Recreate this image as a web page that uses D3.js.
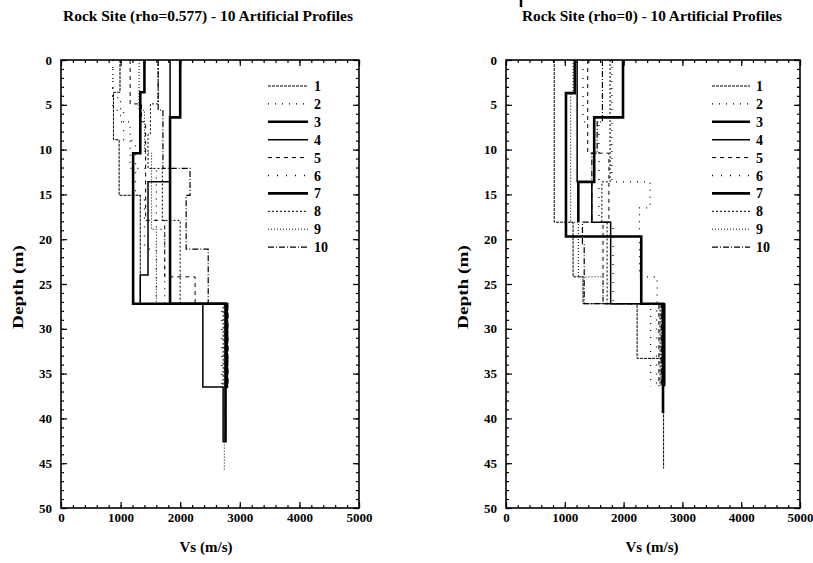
<!DOCTYPE html>
<html><head><meta charset="utf-8">
<script src="https://cdn.jsdelivr.net/npm/d3@7"></script>
<style>
body{margin:0;background:#fff}
svg text{font-family:"Liberation Serif","Times New Roman","DejaVu Serif",serif !important;fill:#000;font-weight:bold}
</style>
</head><body>
<svg id="c" width="813" height="563"></svg>
<script>
// ---------- data ----------
const seriesNames = ["1","2","3","4","5","6","7","8","9","10"];
const xTickValues = [0,1000,2000,3000,4000,5000];
const yTickValues = [0,5,10,15,20,25,30,35,40,45,50];
const titles = ["Rock Site (rho=0.577) - 10 Artificial Profiles","Rock Site (rho=0) - 10 Artificial Profiles"];
const xLabel = "Vs (m/s)";
const yLabel = "Depth (m)";

// Left panel (rho=0.577): layer boundary depths (m) and Vs (m/s) per profile
const leftDepths = [
  [0,3.6,8.9,15.1,27.2,36.5],
  [0,4.2,6.9,12.1,18.9,27.2,36.5],
  [0,6.4,27.2,36.5,42.7],
  [0,13.6,24.0,27.2,36.5,42.7],
  [0,4.9,6.9,17.9,24.2,27.2,36.5],
  [0,5.6,9.0,15.1,21.1,27.2,36.5],
  [0,3.6,10.4,27.2,36.5],
  [0,4.9,8.3,12.1,17.9,27.2,36.5],
  [0,5.6,10.4,18.9,27.2,36.5,45.8],
  [0,5.6,12.1,15.1,21.1,27.2,36.5]
];
const leftVs = [
  [990,880,975,1330,2760],
  [870,1000,1160,1600,1740,2740],
  [2000,1830,2780,2760],
  [1830,1460,1330,2380,2720],
  [1160,1350,1420,1740,2250,2800],
  [870,1050,1250,1400,1600,2700],
  [1400,1330,1210,2760],
  [1630,1500,1460,1700,2000,2720],
  [1310,1400,1520,1600,2750,2740],
  [1630,1710,2165,2100,2470,2800]
];

// Right panel (rho=0)
const rightDepths = [
  [0,18.1,24.2,27.2,33.3,45.6],
  [0,13.6,16.5,24.2,27.2,36.4],
  [0,6.4,13.6,18.1],
  [0,13.6,18.1,27.2,36.4],
  [0,10.4,18.1,27.2,36.4],
  [0,6.9,18.1,27.2,36.4],
  [0,3.7,19.7,27.2,39.4],
  [0,13.6,18.1,27.2,36.4],
  [0,3.7,18.1,24.2,27.2,36.4],
  [0,6.9,10.4,18.1,20.5,27.2,36.4]
];
const rightVs = [
  [820,1140,1310,2230,2680],
  [1800,2450,2270,2570,2460],
  [1990,1500,1230],
  [1210,1460,1780,2700],
  [1390,1750,1650,2600],
  [1310,1580,1820,2560],
  [1170,1020,2300,2670],
  [1770,1630,1720,2620],
  [1140,1100,1230,1650,2650],
  [1640,1550,1460,1300,1330,2640]
];

// ---------- styles ----------
const dashes = ["3,1","1,6",null,null,"4,4","1,8",null,"2,2","1,2","6,2,1,2"];
const widths = [1,1.2,2.6,1.5,1,1.3,2.6,1,1,1.2];
const FONT = '"Liberation Serif","Times New Roman",serif';

const panels = [
  {x0:61, x1:359, y0:60, y1:508, depths:leftDepths, vs:leftVs, title:titles[0],
   tx:208, tw:290, lx:268, lw:40, xlx:206, ylx:18},
  {x0:506, x1:800, y0:60, y1:508, depths:rightDepths, vs:rightVs, title:titles[1],
   tx:652, tw:260, lx:712, lw:38, xlx:652, ylx:463}
];

const svg = d3.select("#c");

panels.forEach((p,pi)=>{
  const x = d3.scaleLinear().domain([0,5000]).range([p.x0,p.x1]);
  const y = d3.scaleLinear().domain([0,50]).range([p.y0,p.y1]);
  const g = svg.append("g");

  const clipId = "clip"+pi;
  svg.append("clipPath").attr("id",clipId).append("rect")
    .attr("x",p.x0).attr("y",p.y0).attr("width",p.x1-p.x0).attr("height",p.y1-p.y0);

  // profiles
  const line = d3.line().x(d=>x(d[0])).y(d=>y(d[1]));
  p.vs.forEach((vals,i)=>{
    const dep = p.depths[i];
    const pts = [];
    vals.forEach((v,k)=>{ pts.push([v,dep[k]]); pts.push([v,dep[k+1]]); });
    g.append("path").attr("d",line(pts)).attr("fill","none")
      .attr("stroke","#000").attr("stroke-width",widths[i])
      .attr("stroke-dasharray",dashes[i]).attr("clip-path",`url(#${clipId})`);
  });

  // axes
  const minorX = d3.range(0,5001,200), minorY = d3.range(0,51,1);
  const mk = (axis, tr, vals, size, fmt, pad)=>{
    const a = g.append("g").attr("transform",tr)
      .call(axis.tickValues(vals).tickSize(size).tickPadding(pad||3).tickFormat(fmt));
    a.select(".domain").remove();
    a.attr("font-family",FONT);
    a.selectAll(".tick line").attr("stroke","#000").attr("stroke-width",1.2);
    return a;
  };
  const none = ()=> "";
  mk(d3.axisBottom(x), `translate(0,${p.y1})`, minorX, -3, none);
  const bx = mk(d3.axisBottom(x), `translate(0,${p.y1})`, xTickValues, -6, d3.format("d"), 5);
  bx.selectAll("text").attr("font-size",13);
  mk(d3.axisTop(x), `translate(0,${p.y0})`, minorX, -3, none);
  mk(d3.axisTop(x), `translate(0,${p.y0})`, xTickValues, -6, none);
  mk(d3.axisLeft(y), `translate(${p.x0},0)`, minorY, -3, none);
  const ly = mk(d3.axisLeft(y), `translate(${p.x0},0)`, yTickValues, -6, d3.format("d"), 9);
  ly.selectAll("text").attr("font-size",13);
  mk(d3.axisRight(y), `translate(${p.x1},0)`, minorY, -3, none);
  mk(d3.axisRight(y), `translate(${p.x1},0)`, yTickValues, -6, none);

  // frame
  g.append("rect").attr("x",p.x0).attr("y",p.y0).attr("width",p.x1-p.x0).attr("height",p.y1-p.y0)
    .attr("fill","none").attr("stroke","#000").attr("stroke-width",1.6);

  // legend
  seriesNames.forEach((n,i)=>{
    const yy = 86 + i*17.9;
    g.append("line").attr("x1",p.lx).attr("x2",p.lx+p.lw).attr("y1",yy).attr("y2",yy)
      .attr("stroke","#000").attr("stroke-width",widths[i]).attr("stroke-dasharray",dashes[i]);
    g.append("text").attr("x",p.lx+p.lw+6).attr("y",yy+5).attr("font-size",14)
      .text(n);
  });

  // title and labels
  g.append("text").attr("x",p.tx).attr("y",21).attr("text-anchor","middle")
    .attr("font-size",15).attr("textLength",p.tw).attr("lengthAdjust","spacingAndGlyphs").text(p.title);
  g.append("text").attr("x",p.xlx).attr("y",552).attr("text-anchor","middle")
    .attr("font-size",15).attr("textLength",53).attr("lengthAdjust","spacingAndGlyphs").text(xLabel);
  g.append("text").attr("transform",`translate(${p.ylx+5},287) rotate(-90)`).attr("text-anchor","middle")
    .attr("font-size",15.5).attr("textLength",84).attr("lengthAdjust","spacingAndGlyphs").text(yLabel);
});

// small scan mark above right title
svg.append("line").attr("x1",521).attr("x2",521).attr("y1",0).attr("y2",7)
  .attr("stroke","#000").attr("stroke-width",2.5);
</script>
</body></html>
